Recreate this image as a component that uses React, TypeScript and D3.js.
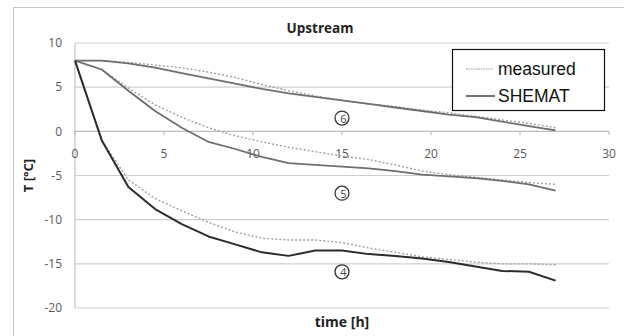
import React from "react";
import * as d3 from "d3";

const hours = [0, 1.5, 3, 4.5, 6, 7.5, 9, 10.5, 12, 13.5, 15, 16.5, 18, 19.5, 21, 22.5, 24, 25.5, 27];

const shemat4 = [8, -1.0, -6.3, -8.8, -10.5, -11.9, -12.8, -13.7, -14.1, -13.5, -13.5, -13.9, -14.1, -14.4, -14.8, -15.3, -15.8, -15.9, -16.9];
const measured4 = [8, -1.0, -5.5, -7.6, -9.0, -10.3, -11.4, -12.1, -12.3, -12.3, -12.6, -13.2, -13.7, -14.2, -14.5, -14.8, -15.0, -15.0, -15.1];
const shemat5 = [8, 7.0, 4.6, 2.3, 0.4, -1.2, -2.0, -2.9, -3.6, -3.8, -4.0, -4.2, -4.5, -4.9, -5.1, -5.3, -5.6, -6.0, -6.7];
const measured5 = [8, 7.0, 4.9, 3.0, 1.6, 0.4, -0.5, -1.2, -1.8, -2.3, -2.8, -3.2, -3.8, -4.5, -4.9, -5.2, -5.5, -5.8, -6.0];
const shemat6 = [8, 8.0, 7.7, 7.2, 6.6, 6.0, 5.4, 4.8, 4.3, 3.9, 3.5, 3.1, 2.7, 2.3, 1.9, 1.6, 1.1, 0.6, 0.1];
const measured6 = [8, 8.0, 7.8, 7.5, 7.2, 6.7, 6.1, 5.3, 4.6, 4.0, 3.5, 3.1, 2.8, 2.4, 2.1, 1.7, 1.3, 0.9, 0.4];

const xTicks = [0, 5, 10, 15, 20, 25, 30];
const yTicks = [10, 5, 0, -5, -10, -15, -20];
const labels = [
  { text: "6", x: 15, y: 1.5 },
  { text: "5", x: 15, y: -7.0 },
  { text: "4", x: 15, y: -15.9 },
];

const W = 624;
const H = 336;

export default function App() {
  const x = d3.scaleLinear().domain([0, 30]).range([75, 609]);
  const y = d3.scaleLinear().domain([-20, 10]).range([308, 43]);
  const line = d3
    .line<number>()
    .x((_, i) => x(hours[i]))
    .y((d) => y(d));

  const tickFont = "'Open Sans', 'Liberation Sans', sans-serif";

  const series = [
    { data: measured6, stroke: "#a0a0a0", width: 1.4, dash: "2,2" },
    { data: measured5, stroke: "#a0a0a0", width: 1.4, dash: "2,2" },
    { data: measured4, stroke: "#a0a0a0", width: 1.4, dash: "2,2" },
    { data: shemat6, stroke: "#6e6e6e", width: 1.8, dash: null },
    { data: shemat5, stroke: "#6e6e6e", width: 1.8, dash: null },
    { data: shemat4, stroke: "#2b2b2b", width: 2, dash: null },
  ];

  return (
    <svg
      width={W}
      height={H}
      style={{ position: "absolute", left: 0, top: 0, background: "#fff" }}
    >
      <rect x={0} y={0} width={W} height={H} fill="#fff" />
      <path d={`M13.5,${H} V7.5 H${W}`} fill="none" stroke="#c4c4c4" strokeWidth={1} />

      {yTicks.map((t) => (
        <line
          key={"g" + t}
          x1={75}
          x2={609}
          y1={y(t)}
          y2={y(t)}
          stroke={t === 0 ? "#bdbdbd" : "#cfcfcf"}
          strokeWidth={1.2}
        />
      ))}
      <line x1={75} x2={75} y1={y(10)} y2={y(-20)} stroke="#c4c4c4" strokeWidth={1.2} />
      {xTicks.map((t) => (
        <line key={"xt" + t} x1={x(t)} x2={x(t)} y1={y(0)} y2={y(0) + 4} stroke="#bdbdbd" strokeWidth={1.2} />
      ))}

      {yTicks.map((t) => (
        <text
          key={"yl" + t}
          x={62}
          y={y(t)}
          dy="0.35em"
          textAnchor="end"
          fontFamily={tickFont}
          fontSize={12}
          fill="#595959"
        >
          {t}
        </text>
      ))}
      {xTicks.map((t) => (
        <text
          key={"xl" + t}
          x={x(t)}
          y={y(0) + 27}
          textAnchor="middle"
          fontFamily={tickFont}
          fontSize={12}
          fill="#595959"
        >
          {t}
        </text>
      ))}

      {series.map((s, i) => (
        <path
          key={"s" + i}
          d={line(s.data) || ""}
          fill="none"
          stroke={s.stroke}
          strokeWidth={s.width}
          strokeDasharray={s.dash || undefined}
          strokeLinejoin="round"
        />
      ))}

      {labels.map((l) => (
        <g key={"c" + l.text}>
          <circle cx={x(l.x)} cy={y(l.y)} r={7} fill="none" stroke="#333" strokeWidth={1.3} />
          <text
            x={x(l.x) + 1.5}
            y={y(l.y) + 4.5}
            textAnchor="middle"
            fontFamily={tickFont}
            fontSize={11}
            fill="#444"
          >
            {l.text}
          </text>
        </g>
      ))}

      <text x={320} y={33} textAnchor="middle" fontFamily={tickFont} fontWeight="bold" fontSize={13.5} fill="#222">
        Upstream
      </text>

      <text
        transform={`translate(33,${(y(10) + y(-20)) / 2}) rotate(-90)`}
        textAnchor="middle"
        fontFamily={tickFont}
        fontWeight="bold"
        fontSize={13}
        fill="#222"
      >
        T [°C]
      </text>
      <text x={342} y={327} textAnchor="middle" fontFamily={tickFont} fontWeight="bold" fontSize={14} fill="#222">
        time [h]
      </text>

      <rect x={452.5} y={49.5} width={152} height={61} fill="#fff" stroke="#111" strokeWidth={1.2} />
      <line x1={466} x2={493} y1={69} y2={69} stroke="#999" strokeWidth={1} strokeDasharray="1.5,1" />
      <text x={498} y={75} fontFamily="'Liberation Sans', Arial, sans-serif" fontSize={17.5} fill="#111">
        measured
      </text>
      <line x1={466} x2={495} y1={96} y2={96} stroke="#111" strokeWidth={1.2} />
      <text x={498} y={102} fontFamily="'Liberation Sans', Arial, sans-serif" fontSize={17.5} fill="#111">
        SHEMAT
      </text>
    </svg>
  );
}
